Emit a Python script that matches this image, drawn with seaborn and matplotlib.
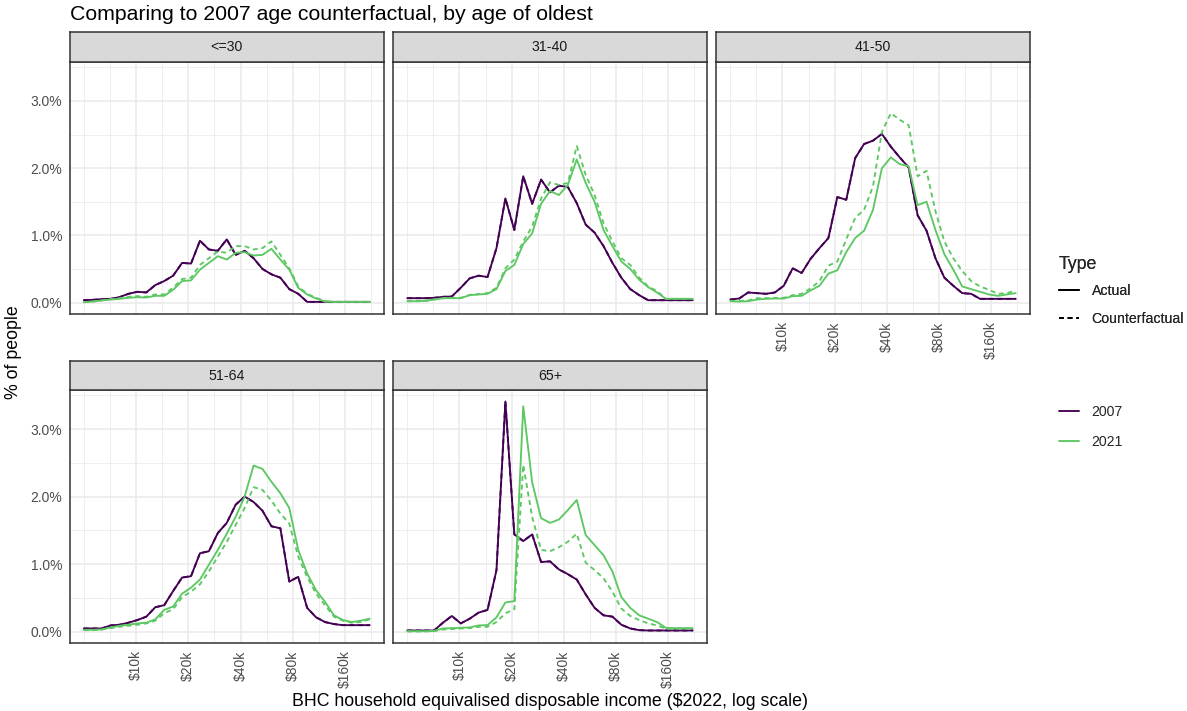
import numpy as np
import pandas as pd
import matplotlib
matplotlib.use("Agg")
import matplotlib.pyplot as plt
import seaborn as sns
from matplotlib.ticker import FixedLocator, FuncFormatter, NullFormatter
from matplotlib.lines import Line2D

# Income bins ($2022, equivalised), log-spaced
income = [5000, 5630, 6340, 7140, 8030, 9040, 10180, 11460, 12910, 14530,
          16360, 18420, 20740, 23350, 26290, 29600, 33320, 37510, 42240, 47550,
          53540, 60270, 67860, 76400, 86010, 96840, 109030, 122750, 138200,
          155590, 175170, 197220, 222040]

age_groups = ["<=30", "31-40", "41-50", "51-64", "65+"]

# Share of people (%) in each income bin
u30_2007 = [0.035, 0.04, 0.05, 0.055, 0.08, 0.13, 0.16, 0.15, 0.26, 0.32, 0.40, 0.59, 0.58,
            0.92, 0.79, 0.77, 0.94, 0.71, 0.77, 0.66, 0.50, 0.42, 0.37, 0.20, 0.13, 0.01,
            0.01, 0.01, 0.01, 0.01, 0.01, 0.01, 0.01]
u30_2021 = [0.005, 0.015, 0.03, 0.045, 0.055, 0.07, 0.08, 0.075, 0.10, 0.10, 0.19, 0.32, 0.33,
            0.49, 0.59, 0.69, 0.64, 0.74, 0.75, 0.70, 0.71, 0.80, 0.64, 0.49, 0.22, 0.12,
            0.06, 0.015, 0.01, 0.01, 0.01, 0.01, 0.01]
u30_2021_cf = [0.005, 0.015, 0.035, 0.05, 0.065, 0.085, 0.095, 0.085, 0.12, 0.12, 0.22, 0.35,
               0.37, 0.56, 0.66, 0.76, 0.74, 0.84, 0.84, 0.79, 0.81, 0.91, 0.71, 0.51, 0.24,
               0.13, 0.07, 0.02, 0.01, 0.01, 0.01, 0.01, 0.01]

a31_2007 = [0.065, 0.065, 0.065, 0.07, 0.085, 0.09, 0.22, 0.36, 0.40, 0.38, 0.81, 1.55, 1.08,
            1.88, 1.47, 1.83, 1.64, 1.74, 1.72, 1.48, 1.16, 1.04, 0.84, 0.59, 0.37, 0.20,
            0.11, 0.035, 0.035, 0.035, 0.035, 0.035, 0.035]
a31_2021 = [0.02, 0.02, 0.025, 0.045, 0.065, 0.065, 0.065, 0.11, 0.12, 0.13, 0.20, 0.47, 0.56,
            0.87, 1.03, 1.47, 1.66, 1.60, 1.75, 2.13, 1.78, 1.50, 1.08, 0.84, 0.61, 0.50,
            0.34, 0.23, 0.15, 0.055, 0.055, 0.055, 0.055]
a31_2021_cf = [0.02, 0.02, 0.025, 0.045, 0.065, 0.07, 0.07, 0.115, 0.125, 0.14, 0.22, 0.51,
               0.64, 0.91, 1.13, 1.55, 1.79, 1.75, 1.78, 2.33, 1.90, 1.60, 1.18, 0.91, 0.66,
               0.56, 0.37, 0.24, 0.17, 0.055, 0.055, 0.055, 0.055]

a41_2007 = [0.045, 0.06, 0.15, 0.14, 0.13, 0.15, 0.25, 0.51, 0.44, 0.65, 0.81, 0.96, 1.57,
            1.53, 2.15, 2.36, 2.41, 2.51, 2.32, 2.16, 2.01, 1.30, 1.07, 0.66, 0.37, 0.25,
            0.14, 0.13, 0.055, 0.055, 0.055, 0.055, 0.055]
a41_2021 = [0.02, 0.015, 0.02, 0.045, 0.055, 0.06, 0.06, 0.095, 0.10, 0.18, 0.25, 0.43, 0.48,
            0.75, 0.96, 1.07, 1.38, 2.00, 2.16, 2.06, 2.03, 1.45, 1.50, 1.08, 0.72, 0.49,
            0.24, 0.20, 0.16, 0.12, 0.10, 0.12, 0.14]
a41_2021_cf = [0.025, 0.025, 0.03, 0.065, 0.065, 0.07, 0.07, 0.11, 0.13, 0.21, 0.32, 0.55,
               0.61, 0.94, 1.26, 1.38, 1.73, 2.54, 2.82, 2.72, 2.64, 1.88, 1.96, 1.36, 0.91,
               0.66, 0.47, 0.32, 0.24, 0.19, 0.13, 0.14, 0.18]

a51_2007 = [0.045, 0.045, 0.045, 0.09, 0.10, 0.13, 0.17, 0.22, 0.36, 0.39, 0.60, 0.80, 0.82,
            1.16, 1.19, 1.46, 1.61, 1.88, 2.00, 1.92, 1.79, 1.56, 1.53, 0.74, 0.81, 0.35,
            0.21, 0.14, 0.11, 0.094, 0.094, 0.094, 0.094]
a51_2021 = [0.025, 0.025, 0.03, 0.06, 0.085, 0.10, 0.12, 0.13, 0.18, 0.32, 0.37, 0.56, 0.65,
            0.77, 0.99, 1.21, 1.45, 1.70, 2.00, 2.46, 2.41, 2.22, 2.05, 1.83, 1.21, 0.86,
            0.61, 0.44, 0.24, 0.17, 0.14, 0.16, 0.19]
a51_2021_cf = [0.02, 0.02, 0.03, 0.05, 0.07, 0.085, 0.10, 0.12, 0.16, 0.27, 0.33, 0.51, 0.59,
               0.70, 0.89, 1.11, 1.33, 1.58, 1.83, 2.14, 2.10, 1.94, 1.75, 1.60, 1.11, 0.81,
               0.56, 0.39, 0.22, 0.16, 0.13, 0.14, 0.18]

a65_2007 = [0.015, 0.015, 0.015, 0.015, 0.13, 0.23, 0.12, 0.19, 0.28, 0.32, 0.91, 3.41, 1.44,
            1.34, 1.44, 1.03, 1.04, 0.92, 0.85, 0.77, 0.55, 0.35, 0.24, 0.22, 0.10, 0.045,
            0.02, 0.015, 0.015, 0.015, 0.015, 0.015, 0.015]
a65_2021 = [0.005, 0.005, 0.005, 0.01, 0.045, 0.05, 0.055, 0.06, 0.09, 0.095, 0.21, 0.43, 0.45,
            3.34, 2.21, 1.68, 1.61, 1.66, 1.80, 1.95, 1.43, 1.28, 1.13, 0.89, 0.51, 0.35,
            0.24, 0.19, 0.14, 0.054, 0.05, 0.05, 0.05]
a65_2021_cf = [0.0, 0.0, 0.0, 0.005, 0.03, 0.035, 0.045, 0.05, 0.07, 0.07, 0.14, 0.27, 0.33,
               2.47, 1.70, 1.21, 1.19, 1.25, 1.33, 1.45, 1.02, 0.91, 0.79, 0.59, 0.34, 0.23,
               0.17, 0.12, 0.09, 0.04, 0.04, 0.04, 0.04]

series_by_group = {
    "<=30": (u30_2007, u30_2021, u30_2021_cf),
    "31-40": (a31_2007, a31_2021, a31_2021_cf),
    "41-50": (a41_2007, a41_2021, a41_2021_cf),
    "51-64": (a51_2007, a51_2021, a51_2021_cf),
    "65+": (a65_2007, a65_2021, a65_2021_cf),
}

records = []
for grp in age_groups:
    s07, s21, s21cf = series_by_group[grp]
    # 2007 is the base year, so its counterfactual equals the actual distribution
    for year, typ, vals in [("2007", "Actual", s07), ("2007", "Counterfactual", s07),
                            ("2021", "Actual", s21), ("2021", "Counterfactual", s21cf)]:
        for x, v in zip(income, vals):
            records.append((grp, year, typ, x, v))
df = pd.DataFrame(records, columns=["age", "year", "type", "income", "pct"])

sns.set_theme(style="white")
plt.rcParams["font.family"] = ["Liberation Sans", "DejaVu Sans"]

year_colors = {"2007": "#440154", "2021": "#5DC863"}
dash_styles = {"Actual": "", "Counterfactual": (2.6, 2.0)}
LW = 1.35
TICK_FS = 10.0

W, H = 1187, 711
fig = plt.figure(figsize=(W / 100, H / 100), dpi=100)
fig.patch.set_facecolor("white")


def box(x0, y0, x1, y1):
    return [x0 / W, 1 - y1 / H, (x1 - x0) / W, (y1 - y0) / H]


col_px = [(69.5, 384), (393, 707), (716, 1030)]
row_px = [((32, 62), (62, 314)), ((361, 390), (390, 643))]

# shared limits with ggplot-style 5% expansion
lx = np.log10([min(income), max(income)])
padx = 0.05 * (lx[1] - lx[0])
xlim = (10 ** (lx[0] - padx), 10 ** (lx[1] + padx))
ymax = df["pct"].max()
ymin = df["pct"].min()
pady = 0.05 * (ymax - ymin)
ylim = (ymin - pady, ymax + pady)

major_x = [10000, 20000, 40000, 80000, 160000]
minor_x = [5000, 7071, 14142, 28284, 56569, 113137, 226274]
major_y = [0, 1, 2, 3]
minor_y = [0.5, 1.5, 2.5, 3.5]
edge = "#333333"

for k, grp in enumerate(age_groups):
    r, c = divmod(k, 3)
    (sy0, sy1), (py0, py1) = row_px[r]
    x0, x1 = col_px[c]

    ax = fig.add_axes(box(x0, py0, x1, py1))
    sub = df[df["age"] == grp]
    sns.lineplot(data=sub, x="income", y="pct", hue="year", style="type",
                 palette=year_colors, dashes=dash_styles, estimator=None,
                 sort=True, linewidth=LW, legend=False, ax=ax)

    ax.set_xscale("log")
    ax.set_xlim(*xlim)
    ax.set_ylim(*ylim)
    ax.xaxis.set_major_locator(FixedLocator(major_x))
    ax.xaxis.set_minor_locator(FixedLocator(minor_x))
    ax.xaxis.set_major_formatter(FuncFormatter(lambda v, p: f"${int(v / 1000)}k"))
    ax.xaxis.set_minor_formatter(NullFormatter())
    ax.yaxis.set_major_locator(FixedLocator(major_y))
    ax.yaxis.set_minor_locator(FixedLocator(minor_y))
    ax.yaxis.set_major_formatter(FuncFormatter(lambda v, p: f"{v:.1f}%"))

    ax.set_axisbelow(True)
    ax.grid(which="major", color="#EBEBEB", linewidth=1.2)
    ax.grid(which="minor", color="#EBEBEB", linewidth=0.6)
    ax.set_facecolor("white")
    for sp in ax.spines.values():
        sp.set_color(edge)
        sp.set_linewidth(1.1)
    ax.set_xlabel("")
    ax.set_ylabel("")

    show_x = k >= 2
    show_y = c == 0
    ax.tick_params(axis="x", which="major", length=3.3 if show_x else 0, width=0.9,
                   color=edge, labelsize=TICK_FS, labelcolor="#4D4D4D",
                   labelbottom=show_x, labelrotation=90, pad=2)
    ax.tick_params(axis="y", which="major", length=3.3 if show_y else 0, width=0.9,
                   color=edge, labelsize=TICK_FS, labelcolor="#4D4D4D",
                   labelleft=show_y, pad=2)
    ax.tick_params(which="minor", length=0)

    # facet strip
    sax = fig.add_axes(box(x0, sy0, x1, sy1))
    sax.set_facecolor("#D9D9D9")
    sax.set_xticks([])
    sax.set_yticks([])
    for sp in sax.spines.values():
        sp.set_color(edge)
        sp.set_linewidth(1.1)
    sax.text(0.5, 0.5, grp, ha="center", va="center", fontsize=10.2,
             color="#1A1A1A", transform=sax.transAxes)

fig.text(70 / W, 1 - 14 / H, "Comparing to 2007 age counterfactual, by age of oldest",
         ha="left", va="center", fontsize=15.3, color="black")
fig.text(550 / W, 1 - 702 / H,
         "BHC household equivalised disposable income ($2022, log scale)",
         ha="center", va="center", fontsize=12.8, color="black")
fig.text(14 / W, 1 - 352 / H, "% of people", rotation=90, ha="center", va="center",
         fontsize=12.8, color="black")

type_handles = [Line2D([], [], color="black", lw=LW, linestyle="-"),
                Line2D([], [], color="black", lw=LW, dashes=(2.6, 2.0))]
leg1 = fig.legend(type_handles, ["Actual", "Counterfactual"], title="Type",
                  loc="upper left", bbox_to_anchor=(1059 / W, 1 - 256 / H),
                  frameon=False, fontsize=10.2, title_fontsize=12.8,
                  handlelength=1.4, handletextpad=0.9, labelspacing=0.95,
                  borderpad=0, borderaxespad=0, alignment="left")
leg1._legend_box.sep = 8
year_handles = [Line2D([], [], color=year_colors["2007"], lw=LW),
                Line2D([], [], color=year_colors["2021"], lw=LW)]
leg2 = fig.legend(year_handles, ["2007", "2021"], loc="upper left",
                  bbox_to_anchor=(1059 / W, 1 - 405 / H), frameon=False, fontsize=10.2,
                  handlelength=1.4, handletextpad=0.9, labelspacing=1.1,
                  borderpad=0, borderaxespad=0)
fig.add_artist(leg1)

fig.savefig("out.png", dpi=100, facecolor="white")
